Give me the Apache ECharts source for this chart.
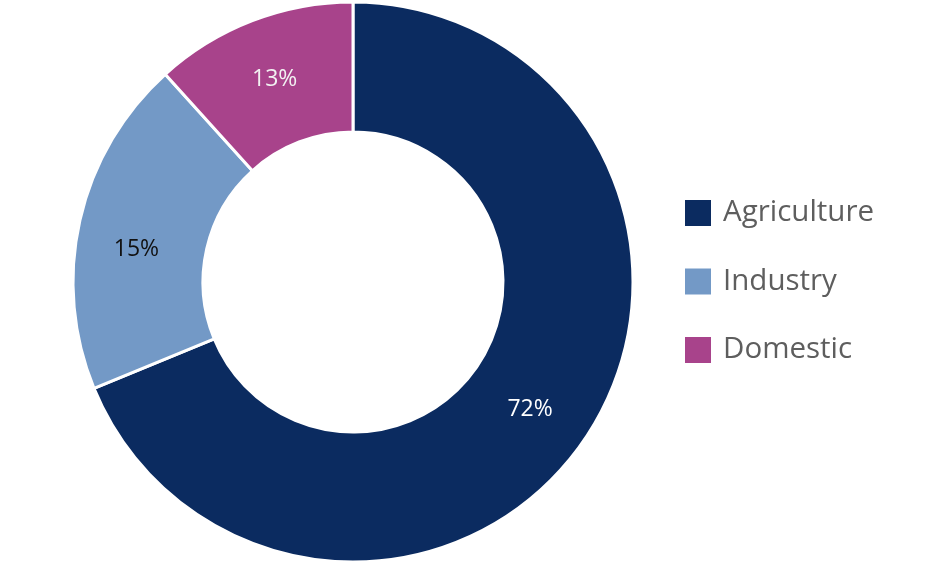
<!DOCTYPE html>
<html>
<head>
<meta charset="utf-8">
<script src="https://cdn.jsdelivr.net/npm/echarts@6/dist/echarts.min.js"></script>
<style>html,body{margin:0;padding:0;background:#fff;}#c{width:948px;height:564px;}</style>
</head>
<body>
<div id="c"></div>
<script>
const categories = ['Agriculture', 'Industry', 'Domestic'];
const sliceValues = [68.8, 19.5, 11.7];
// percentage labels as printed on the chart
const sliceLabels = ['72%', '15%', '13%'];
const colors = ['#0b2b60', '#7399c6', '#a8438b'];
const labelColors = ['#ffffff', '#111111', '#f2f2f2'];
const labelOffsets = [[-4, 6], [-4, 16], [0, 1]];

const chart = echarts.init(document.getElementById('c'), null, {renderer: 'canvas'});
chart.setOption({
  animation: false,
  legend: {
    orient: 'vertical',
    left: 683,
    top: 198,
    padding: 0,
    itemWidth: 28,
    itemHeight: 28,
    itemGap: 38.5,
    icon: 'rect',
    data: categories,
    textStyle: {
      fontFamily: 'Open Sans',
      fontSize: 29.5,
      color: '#5e5e5e',
      lineHeight: 28,
      padding: [0, 0, 0, 6]
    }
  },
  series: [{
    type: 'pie',
    center: [353, 282],
    radius: [150, 280],
    startAngle: 90,
    clockwise: true,
    avoidLabelOverlap: false,
    itemStyle: {borderColor: '#ffffff', borderWidth: 3},
    label: {
      show: true,
      position: 'inside',
      fontFamily: 'Open Sans',
      fontSize: 23
    },
    labelLine: {show: false},
    emphasis: {disabled: true},
    data: categories.map((name, i) => ({
      name: name,
      value: sliceValues[i],
      itemStyle: {color: colors[i]},
      label: {formatter: sliceLabels[i], color: labelColors[i], offset: labelOffsets[i]}
    }))
  }]
});
</script>
</body>
</html>
